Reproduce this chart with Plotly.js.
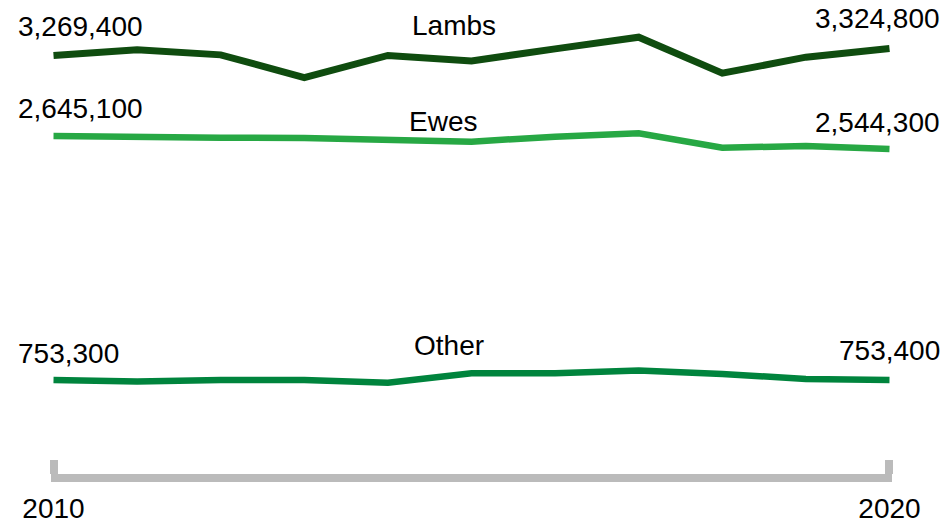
<!DOCTYPE html>
<html>
<head>
<meta charset="utf-8">
<script src="https://cdn.plot.ly/plotly-3.0.1.min.js"></script>
<style>
  html, body { margin: 0; padding: 0; background: #ffffff; }
  #chart { width: 949px; height: 525px; }
</style>
</head>
<body>
<div id="chart"></div>
<script>
// Sheep numbers by category, 2010-2020
const years = [2010, 2011, 2012, 2013, 2014, 2015, 2016, 2017, 2018, 2019, 2020];
const lambs = [3269400, 3313600, 3274800, 3098700, 3270100, 3228300, 3321400, 3412100, 3132900, 3257000, 3324800];
const ewes  = [2645100, 2644800, 2632700, 2629600, 2621800, 2601700, 2640400, 2666000, 2555100, 2567500, 2544300];
const other = [753300, 740100, 753100, 752600, 731000, 805300, 805000, 825400, 799800, 761000, 753400];

const seriesNames = ['Lambs', 'Ewes', 'Other'];
const tickYears = [2010, 2020];
const tickLabels = ['2010', '2020'];

const FONT = 'Liberation Sans, Arial, sans-serif';
const seriesData = [lambs, ewes, other];
const colors = ['#0f4c0f', '#27a844', '#00843d'];
const widths = [7, 6.5, 6.5];

const traces = seriesData.map((vals, i) => ({
  type: 'scatter',
  mode: 'lines',
  name: seriesNames[i],
  x: years,
  y: vals,
  line: { color: colors[i], width: widths[i] },
  hoverinfo: 'x+y+name'
}));

const fmt = v => v.toLocaleString('en-GB');

// value labels at the first and last year of each series
const startShift = [12, 10, 9];
const endShift = [12, 9, 12];
const annotations = [];
seriesData.forEach((vals, i) => {
  annotations.push({
    xref: 'x', yref: 'y', x: years[0], y: vals[0],
    text: fmt(vals[0]), showarrow: false,
    xanchor: 'left', yanchor: 'bottom', xshift: -38, yshift: startShift[i],
    font: { family: FONT, size: 28, color: '#000000' }
  });
  annotations.push({
    xref: 'x', yref: 'y', x: years[years.length - 1], y: vals[vals.length - 1],
    text: fmt(vals[vals.length - 1]), showarrow: false,
    xanchor: 'right', yanchor: 'bottom', xshift: 53, yshift: endShift[i],
    font: { family: FONT, size: 28, color: '#000000' }
  });
});

// series names near the middle of each line
const namePos = [[0.4797, 0.9485], [0.4657, 0.737], [0.4729, 0.244]];
seriesNames.forEach((name, i) => {
  annotations.push({
    xref: 'paper', yref: 'paper', x: namePos[i][0], y: namePos[i][1],
    text: name, showarrow: false, xanchor: 'center', yanchor: 'bottom',
    font: { family: FONT, size: 28, color: '#000000' }
  });
});

const layout = {
  width: 949,
  height: 525,
  margin: { l: 51.3, r: 56.6, t: 20, b: 51 },
  paper_bgcolor: '#ffffff',
  plot_bgcolor: '#ffffff',
  showlegend: false,
  font: { family: FONT, size: 28, color: '#000000' },
  xaxis: {
    range: [2009.97, 2020.03],
    tickvals: tickYears,
    ticktext: tickLabels,
    showgrid: false,
    zeroline: false,
    showline: true,
    linecolor: '#bbbbbb',
    linewidth: 8,
    ticks: 'inside',
    ticklen: 14,
    tickwidth: 8,
    tickcolor: '#bbbbbb',
    ticklabelstandoff: 2,
    tickfont: { family: FONT, size: 28, color: '#000000' },
    fixedrange: true
  },
  yaxis: {
    visible: false,
    range: [23274, 3545406],
    fixedrange: true
  },
  annotations: annotations
};

Plotly.newPlot('chart', traces, layout, { displayModeBar: false, staticPlot: true });
</script>
</body>
</html>
